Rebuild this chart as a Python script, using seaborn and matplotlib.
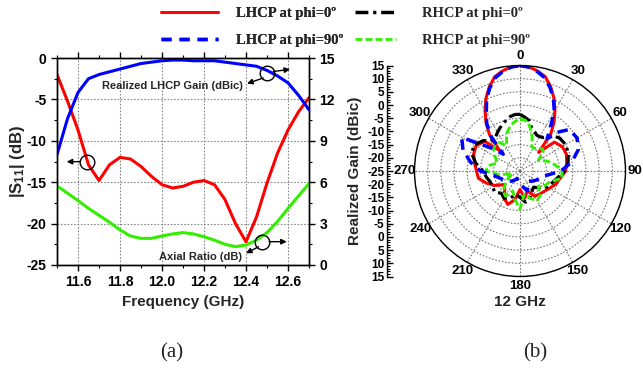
import numpy as np
import pandas as pd
import matplotlib
matplotlib.use("Agg")
import matplotlib.pyplot as plt
import seaborn as sns
from matplotlib.lines import Line2D
from matplotlib.ticker import MultipleLocator

# ---------------- data (a) ----------------
freq = [11.5, 11.55, 11.6, 11.65, 11.7, 11.75, 11.8, 11.85, 11.9, 11.95, 12.0, 12.05,
        12.1, 12.15, 12.2, 12.25, 12.3, 12.35, 12.4, 12.45, 12.5, 12.55, 12.6, 12.65, 12.7]
s11 = [-2.0, -5.2, -8.7, -12.9, -14.8, -12.9, -12.0, -12.2, -13.1, -14.3, -15.3, -15.7,
       -15.5, -15.0, -14.8, -15.3, -17.1, -20.0, -22.2, -19.2, -15.1, -11.5, -8.7, -6.5, -4.8]
gain_lhcp = [8.0, 10.6, 12.5, 13.5, 13.8, 14.0, 14.2, 14.4, 14.6, 14.7, 14.8, 14.85,
             14.85, 14.8, 14.8, 14.8, 14.7, 14.6, 14.5, 14.4, 14.1, 13.7, 13.2, 12.3, 11.25]
axial_ratio = [5.73, 5.2, 4.67, 4.1, 3.6, 3.1, 2.54, 2.1, 1.93, 1.93, 2.1, 2.25,
               2.35, 2.25, 2.05, 1.8, 1.5, 1.33, 1.45, 1.8, 2.35, 3.15, 4.1, 5.0, 5.9]
freq_ticks = [11.6, 11.8, 12.0, 12.2, 12.4, 12.6]
s11_ticks = [0, -5, -10, -15, -20, -25]
right_ticks = [0, 3, 6, 9, 12, 15]

# ---------------- data (b) ----------------
angles = [0, 5, 10, 15, 20, 25, 30, 35, 40, 45, 50,
          60, 70, 80, 90, 100, 110, 120, 130, 140, 150, 160, 170, 180, 190, 200, 210,
          220, 230, 240, 250, 260, 270, 280, 290, 300,
          310, 315, 320, 325, 330, 335, 340, 345, 350, 355]
lhcp_phi0 = [15, 14.6, 13.5, 12, 9, 5.5, 1.5, -2.5, -7, -15, -8,
             -6.5, -6.3, -7, -7.7, -9.5, -10.5, -12, -13, -13.5, -14, -17, -14.5, -18, -14, -11.5, -13,
             -16, -17, -14, -11.5, -9, -8.5, -7.5, -6.3, -5.8,
             -7.5, -14, -7, -2.5, 1.5, 5.5, 9, 12, 13.5, 14.6]
lhcp_phi90 = [15, 14.5, 13.2, 11.5, 8.5, 5, 1, -5, -9, -4, -0.5,
              0, -1.5, -5, -9.5, -15, -17, -18, -19, -20, -19, -17, -19, -20, -21, -22, -21,
              -20, -19, -18, -17, -15, -10, -6, -2, 0.5,
              -12, -16, -8, -3, 0.5, 5, 8.5, 11.5, 13.2, 14.5]
rhcp_phi0 = [-3.5, -4.5, -5.5, -8, -9, -10, -10, -9.5, -8, -6.5, -5.5,
             -5, -5.5, -6.5, -8, -10.5, -12, -13, -15, -17, -16, -14, -13, -15, -16, -14, -13,
             -14, -12.5, -13, -13, -12, -11, -8, -5.5, -5,
             -7, -9, -9.5, -9, -8, -7, -6, -5, -4, -3.5]
rhcp_phi90 = [-5.5, -5.5, -6.5, -9, -11.5, -14.5, -15, -14.5, -14, -13, -13.5,
              -17, -14, -11.5, -9, -9, -13, -14, -16, -13, -12, -14, -16, -10.5, -14, -17, -14,
              -15, -18, -20, -22, -17, -12, -13, -16, -14,
              -12, -11.5, -11.5, -11.8, -14, -13, -10, -8.5, -7, -6]
angle_ticks = list(range(0, 360, 30))
gain_min, gain_max = -25, 15
legend_labels_lhcp = ["LHCP at phi=0º", "LHCP at phi=90º"]
legend_labels_rhcp = ["RHCP at phi=0º", "RHCP at phi=90º"]

# ---------------- style ----------------
sns.set_theme(style="ticks")
plt.rcParams["font.family"] = ["Liberation Sans", "DejaVu Sans"]
plt.rcParams["font.weight"] = "bold"
plt.rcParams["mathtext.fontset"] = "custom"
plt.rcParams["mathtext.rm"] = "Liberation Sans:bold"
plt.rcParams["mathtext.bf"] = "Liberation Sans:bold"
plt.rcParams["mathtext.it"] = "Liberation Sans:bold"
plt.rcParams["axes.edgecolor"] = "black"
plt.rcParams["xtick.color"] = "black"
plt.rcParams["ytick.color"] = "black"

RED = "#ff0000"
BLUE = "#0000ff"
GREEN = "#33ee00"
BLACK = "#000000"

fig = plt.figure(figsize=(6.43, 3.69), dpi=100)

# ================= panel (a) =================
ax = fig.add_axes([57 / 643, 1 - 265 / 369, 252 / 643, 207 / 369])
ax2 = ax.twinx()

sns.lineplot(x=freq, y=s11, ax=ax, color=RED, lw=2.2, sort=False, estimator=None)
sns.lineplot(x=freq, y=gain_lhcp, ax=ax2, color=BLUE, lw=2.2, sort=False, estimator=None)
sns.lineplot(x=freq, y=axial_ratio, ax=ax2, color=GREEN, lw=2.2, sort=False, estimator=None)

ax.set_xlim(11.5, 12.7)
ax.set_ylim(-25, 0)
ax2.set_ylim(0, 15)
ax.set_xticks(freq_ticks)
ax.set_xticklabels([f"{t:.1f}" for t in freq_ticks])
ax.xaxis.set_minor_locator(MultipleLocator(0.1))
ax.set_yticks(s11_ticks)
ax.set_yticklabels([str(t) for t in s11_ticks])
ax.yaxis.set_minor_locator(MultipleLocator(2.5))
ax2.set_yticks(right_ticks)
ax2.set_yticklabels([str(t) for t in right_ticks])
ax2.yaxis.set_minor_locator(MultipleLocator(1.5))
ax.grid(True, which="major", ls=(0, (1.5, 1.5)), color="#888888", lw=0.8)
ax2.grid(False)
ax.tick_params(axis="both", which="major", labelsize=10, length=4, width=1, direction="out")
ax.tick_params(axis="both", which="minor", length=2.5, width=0.8, direction="out")
ax.tick_params(axis="x", top=True, which="both")
ax2.tick_params(axis="y", which="major", labelsize=10, length=4, width=1, direction="out")
ax2.tick_params(axis="y", which="minor", length=2.5, width=0.8, direction="out")
for a in (ax, ax2):
    for sp in a.spines.values():
        sp.set_color("black")
        sp.set_linewidth(1.0)
ax.set_xlabel("Frequency (GHz)", fontsize=11, fontweight="bold", labelpad=4)
ax.set_ylabel(r"|S$_{11}$| (dB)", fontsize=12, fontweight="bold", labelpad=0)
ax2.set_ylabel("")

arrow = dict(arrowstyle="-|>", color="black", lw=1.0, mutation_scale=8, shrinkA=0, shrinkB=0)
ax.plot([11.644], [-12.52], marker="o", ms=10.5, mfc="none", mec="black", mew=1)
ax.annotate("", xy=(11.546, -12.52), xytext=(11.61, -12.52), arrowprops=arrow)
ax2.plot([12.498], [13.89], marker="o", ms=10.5, mfc="none", mec="black", mew=1)
ax2.annotate("", xy=(12.61, 14.18), xytext=(12.53, 14.02), arrowprops=arrow)
ax2.annotate("", xy=(12.405, 13.15), xytext=(12.482, 13.55), arrowprops=arrow)
ax2.text(12.386, 12.97, "Realized LHCP Gain (dBic)", ha="right", va="center",
         fontsize=8, fontweight="bold")
ax2.plot([12.475], [1.69], marker="o", ms=10.5, mfc="none", mec="black", mew=1)
ax2.annotate("", xy=(12.594, 1.69), xytext=(12.51, 1.69), arrowprops=arrow)
ax2.annotate("", xy=(12.40, 0.85), xytext=(12.46, 1.32), arrowprops=arrow)
ax2.text(12.381, 0.6, "Axial Ratio (dB)", ha="right", va="center",
         fontsize=8, fontweight="bold")

# ================= panel (b) =================
pax = fig.add_axes([414.5 / 643, 1 - 276.5 / 369, 211 / 643, 211 / 369], projection="polar")
series = [
    (lhcp_phi0, RED, "-", 2.2),
    (rhcp_phi0, BLACK, (0, (3.7, 1.4, 0.9, 1.4)), 2.3),
    (rhcp_phi90, GREEN, (0, (2.5, 1.1)), 2.1),
    (lhcp_phi90, BLUE, (0, (3.0, 2.0)), 2.5),
]
for vals, col, ls, lw in series:
    th = np.deg2rad(angles + [angles[0] + 360])
    rr = np.clip(np.array(vals + [vals[0]]) - gain_min, 0, None)
    df = pd.DataFrame({"theta": th, "r": rr})
    sns.lineplot(data=df, x="theta", y="r", ax=pax, color=col, lw=lw, linestyle=ls,
                 sort=False, estimator=None)

pax.set_theta_zero_location("N")
pax.set_theta_direction(-1)
pax.set_ylim(0, gain_max - gain_min)
pax.set_yticks(np.arange(5, gain_max - gain_min + 1, 5))
pax.set_yticklabels([])
pax.set_xticks(np.deg2rad(angle_ticks))
pax.set_xticklabels([str(a) for a in angle_ticks], fontsize=9.5, fontweight="bold")
pax.tick_params(axis="x", pad=-6)
pax.grid(True, ls=(0, (1.5, 1.5)), color="#777777", lw=0.8)
pax.spines["polar"].set_color("black")
pax.spines["polar"].set_linewidth(1.0)
pax.set_xlabel("")
pax.set_ylabel("")
pax.set_facecolor("white")

sax = fig.add_axes([387.3 / 643, 1 - 276.5 / 369, 0.0001, 211 / 369])
span = gain_max - gain_min
sax.set_ylim(-span, span)
rticks = np.arange(-span, span + 1, 5)
sax.set_yticks(rticks)
sax.set_yticklabels([str(int(abs(t) + gain_min)) for t in rticks], fontsize=8.5, fontweight="bold")
sax.yaxis.set_minor_locator(MultipleLocator(1))
sax.tick_params(axis="y", which="major", direction="in", length=4, width=1, pad=2)
sax.tick_params(axis="y", which="minor", direction="in", length=2, width=0.8)
sax.set_xticks([])
for k in ("top", "right", "bottom"):
    sax.spines[k].set_visible(False)
sax.spines["left"].set_color("black")
sax.spines["left"].set_linewidth(1.0)
sax.set_ylabel("Realized Gain (dBic)", fontsize=11, fontweight="bold", labelpad=4)
sax.patch.set_alpha(0)

fig.text(520 / 643, 1 - 302 / 369, "12 GHz", ha="center", va="center", fontsize=11, fontweight="bold")

# ================= legend & captions =================
leg_prop = {"family": "Liberation Serif", "weight": "bold", "size": 10.5}
handles_l = [
    Line2D([], [], color=RED, lw=2.0, ls="-"),
    Line2D([], [], color=BLUE, lw=2.5, ls=(0, (2.9, 2.3))),
]
handles_r = [
    Line2D([], [], color=BLACK, lw=2.5, ls=(0, (3.7, 1.4, 0.9, 1.4))),
    Line2D([], [], color=GREEN, lw=2.0, ls=(0, (2.5, 1.1))),
]
leg1 = fig.legend(handles_l, legend_labels_lhcp, loc="upper left",
                  bbox_to_anchor=(161 / 643, 1 - 7 / 369), frameon=False, prop=leg_prop,
                  handlelength=3.9, handletextpad=1.25, labelspacing=0.95,
                  borderpad=0, borderaxespad=0)
fig.add_artist(leg1)
fig.legend(handles_r, legend_labels_rhcp, loc="upper left",
           bbox_to_anchor=(355 / 643, 1 - 7 / 369), frameon=False, prop=leg_prop,
           handlelength=2.8, handletextpad=1.8, labelspacing=0.95,
           borderpad=0, borderaxespad=0)

fig.text(172 / 643, 1 - 353 / 369, "(a)", ha="center", va="center", fontsize=15,
         family="Liberation Serif", fontweight="normal")
fig.text(535 / 643, 1 - 353 / 369, "(b)", ha="center", va="center", fontsize=15,
         family="Liberation Serif", fontweight="normal")

fig.savefig("out.png", dpi=100, facecolor="white")
